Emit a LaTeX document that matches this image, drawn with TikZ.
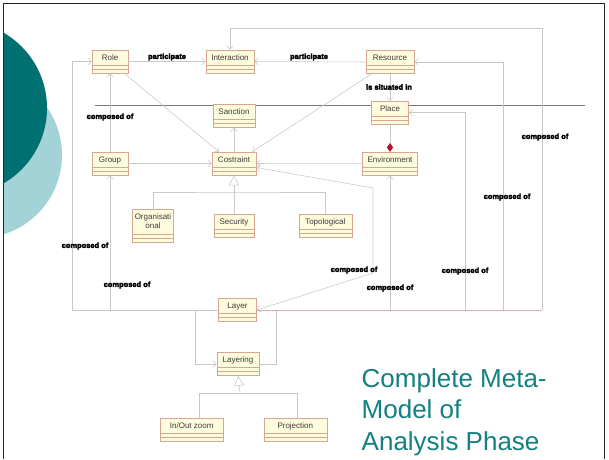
\documentclass[tikz,border=0pt]{standalone}
\usepackage{fontspec}
\setmainfont{Liberation Sans}
\usetikzlibrary{arrows.meta}
\newfontfamily\boxfont{Liberation Sans}
\newfontfamily\blobfont[FakeBold=3.5]{Liberation Sans Bold}
\definecolor{boxfill}{RGB}{255,252,221}
\definecolor{boxline}{RGB}{214,168,148}
\definecolor{linegray}{RGB}{200,200,200}
\definecolor{linepink}{RGB}{230,168,178}
\definecolor{rulegray}{RGB}{120,120,120}
\definecolor{tealdark}{RGB}{0,112,112}
\definecolor{teallight}{RGB}{163,211,214}
\definecolor{titleteal}{RGB}{20,128,128}
\definecolor{diamondred}{RGB}{176,20,45}
\definecolor{textgray}{RGB}{60,60,60}

\begin{document}
\begin{tikzpicture}[x=1pt,y=-1pt,
  umlbox/.style={draw=boxline, fill=boxfill, line width=0.6pt, rectangle,
    font=\boxfont\fontsize{8}{9.5}\selectfont, text=textgray, align=center,
    inner xsep=1pt, inner ysep=0pt, text height=10pt, text depth=13pt,
    path picture={\draw[boxline, line width=0.5pt]
      ([yshift=8pt]path picture bounding box.south west) -- ([yshift=8pt]path picture bounding box.south east)
      ([yshift=4pt]path picture bounding box.south west) -- ([yshift=4pt]path picture bounding box.south east);}},
  conn/.style={draw=linegray, line width=0.55pt},
  arr/.style={conn, -{Straight Barb[length=3.5pt,width=7pt]}},
  biarr/.style={conn, {Straight Barb[length=3.5pt,width=7pt]}-{Straight Barb[length=3.5pt,width=7pt]}},
  genarr/.style={conn, -{Triangle[open, length=10pt, width=10pt, fill=white]}},
  comparr/.style={conn, -{Diamond[length=9pt, width=6pt, fill=diamondred, color=diamondred]}},
  blob/.style={font=\blobfont\fontsize{7.5}{8}\selectfont, text=black, inner sep=0pt},
  title/.style={font=\fontsize{26}{31.5}\selectfont, text=titleteal, anchor=base west, inner sep=0pt}
]
\useasboundingbox (0,0) rectangle (609,459);
\fill[white] (0,0) rectangle (609,459);

% decorative circles on the left edge
\begin{scope}
  \clip (3.5,0) rectangle (200,459);
  \fill[teallight] (-21,155) circle (83);
  \fill[tealdark] (-40,108) circle (87);
\end{scope}

% slide frame
\draw[black!85, line width=0.8pt] (3.5,459) -- (3.5,3.5) -- (604.5,3.5) -- (604.5,459);

% separator rule
\draw[rulegray, line width=0.9pt] (95,105) -- (585,105);

% classes
\node[umlbox, minimum width=36pt] (role) at (110,61.5) {Role};
\node[umlbox, minimum width=48pt] (interaction) at (230,61.5) {Interaction};
\node[umlbox, minimum width=48pt] (resource) at (390,62) {Resource};
\node[umlbox, minimum width=37pt] (place) at (390,112.7) {Place};
\node[umlbox, minimum width=42pt] (sanction) at (234,116) {Sanction};
\node[umlbox, minimum width=36pt] (group) at (110,163.5) {Group};
\node[umlbox, minimum width=44pt] (costraint) at (234,163.5) {Costraint};
\node[umlbox, minimum width=55pt] (environment) at (390,163.7) {Environment};
\node[umlbox, minimum width=41pt, text height=19.5pt, text depth=13.5pt, font=\boxfont\fontsize{8}{9.5}\selectfont] (organisational) at (153,225.7) {Organisati\\onal};
\node[umlbox, minimum width=40pt] (security) at (234,226) {Security};
\node[umlbox, minimum width=53pt] (topological) at (325.3,226) {Topological};
\node[umlbox, minimum width=38pt] (layer) at (237.5,310) {Layer};
\node[umlbox, minimum width=42pt] (layering) at (238,364) {Layering};
\node[umlbox, minimum width=63pt] (inout) at (191.7,429.5) {In/Out zoom};
\node[umlbox, minimum width=63pt] (projection) at (295.3,429.5) {Projection};

% routing points
\coordinate (topR) at (542,28);
\coordinate (topL) at (230,28);
\coordinate (botR) at (542,310);
\coordinate (resR) at (503,62);
\coordinate (resB) at (503,310);
\coordinate (plaR) at (465,112.7);
\coordinate (plaB) at (465,310);
\coordinate (envB) at (390,310);
\coordinate (leftB) at (72,310);
\coordinate (leftT) at (72,61.5);
\coordinate (grpB) at (110,310);
\coordinate (kneeT) at (373,188);
\coordinate (kneeB) at (373,273);
\coordinate (lyrL) at (195,310);
\coordinate (lyrLb) at (195,364);
\coordinate (lyrR) at (276,310);
\coordinate (lyrRb) at (276,364);
\coordinate (genC) at (234,192);
\coordinate (genL) at (240,393);

% bottom bus
\draw[conn] (layer.west) -- (leftB);
\draw[conn, draw=linepink] (layer.east) -- (botR);

% associations
\draw[arr] (role.east) -- (interaction.west);
\draw[arr] (resource.west) -- (interaction.east);
\draw[arr] (botR) -- (topR) -- (topL) -- (interaction.north);
\draw[arr] (resB) -- (resR) -- (resource.east);
\draw[arr] (plaB) -- (plaR) -- (place.east);
\draw[arr] (resource.south) -- (place.north);
\draw[comparr] (place.south) -- (environment.north);
\draw[arr] (envB) -- (environment.south);
\draw[arr] ([xshift=-4pt]role.south east) -- ([xshift=7pt]costraint.north west);
\draw[arr] ([xshift=6pt]resource.south west) -- ([xshift=-4pt]costraint.north east);
\draw[arr] (costraint.north) -- (sanction.south);
\draw[arr] (group.east) -- (costraint.west);
\draw[arr] (environment.west) -- (costraint.east);
\draw[biarr] ([yshift=-4pt]costraint.east) -- (kneeT) -- (kneeB) -- (layer.east);
\draw[arr] (leftB) -- (leftT) -- (role.west);
\draw[arr] (grpB) -- (group.south);
\draw[arr] (group.north) -- (role.south);
\draw[arr] (lyrL) -- (lyrLb) -- (layering.west);
\draw[conn] (layering.east) -- (lyrRb) -- (lyrR);

% generalisations
\draw[conn] (organisational.north) |- (genC) -| (topological.north);
\draw[conn] (security.north) -- (genC);
\draw[genarr] (genC) -- (costraint.south);
\draw[conn] ([xshift=7.6pt]inout.north) |- (genL) -| ([xshift=2.4pt]projection.north);
\draw[genarr] (genL) -- (layering.south);

% association labels
\node[blob] (lp1) at (167,57) {participate};
\node[blob] (lp2) at (309,57) {participate};
\node[blob] (ls) at (389,87) {is situated in};
\node[blob] (lc1) at (110,117) {composed of};
\node[blob] (lc2) at (545,137) {composed of};
\node[blob] (lc3) at (507,197) {composed of};
\node[blob] (lc4) at (465,271) {composed of};
\node[blob] (lc5) at (354,270) {composed of};
\node[blob] (lc6) at (390,288) {composed of};
\node[blob] (lc7) at (85,246) {composed of};
\node[blob] (lc8) at (127,285) {composed of};

% slide title
\node[title] (t1) at (361.5,387) {Complete Meta-};
\node[title] (t2) at (361.5,418.5) {Model of};
\node[title] (t3) at (361.5,450) {Analysis Phase};
\end{tikzpicture}
\end{document}
